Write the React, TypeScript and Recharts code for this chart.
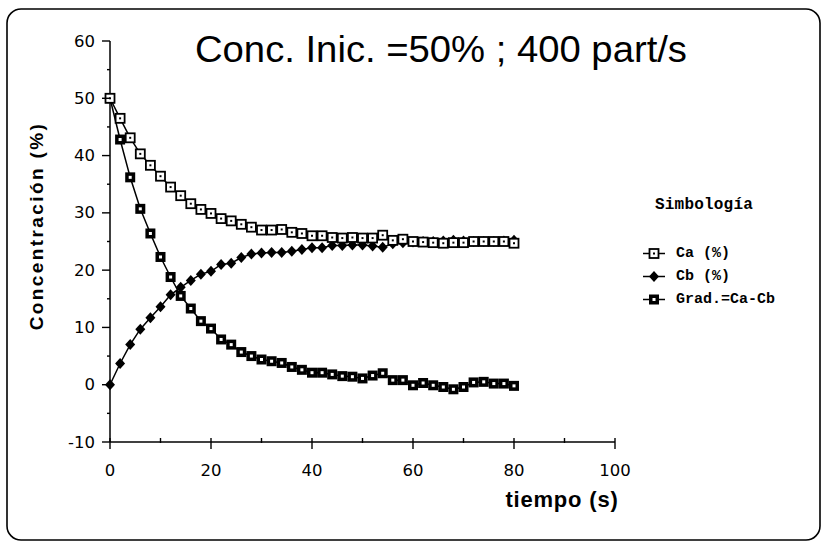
import React from 'react'
import { LineChart, Line, XAxis, YAxis, Legend } from 'recharts'

// muestreo cada 2 s
const tiempo = [
  0, 2, 4, 6, 8, 10, 12, 14, 16, 18, 20, 22, 24, 26, 28, 30, 32, 34, 36, 38, 40,
  42, 44, 46, 48, 50, 52, 54, 56, 58, 60, 62, 64, 66, 68, 70, 72, 74, 76, 78, 80,
]
const ca = [
  50, 46.5, 43.1, 40.3, 38.3, 36.4, 34.5, 33.0, 31.6, 30.6, 29.9, 29.0, 28.6, 28.0, 27.5, 27.0, 27.0, 27.1, 26.6, 26.4, 26.0,
  26.0, 25.7, 25.6, 25.7, 25.6, 25.6, 26.1, 25.2, 25.4, 25.0, 24.9, 24.8, 24.7, 24.8, 24.8, 25.0, 25.0, 25.0, 25.0, 24.7,
]
const cb = [
  0, 3.7, 7.0, 9.7, 11.7, 13.6, 15.7, 17.0, 18.2, 19.3, 19.8, 21.0, 21.2, 22.2, 22.8, 23.0, 23.1, 23.1, 23.3, 23.6, 23.9,
  23.9, 24.3, 24.3, 24.4, 24.4, 24.2, 24.0, 24.6, 24.8, 24.9, 25.0, 25.0, 25.1, 25.2, 25.1, 25.0, 25.0, 25.0, 25.1, 25.2,
]
const grad = [
  50, 42.8, 36.2, 30.7, 26.4, 22.3, 18.8, 15.5, 13.3, 11.1, 9.8, 7.9, 7.0, 5.7, 5.0, 4.4, 4.1, 3.8, 3.1, 2.6, 2.1,
  2.1, 1.8, 1.5, 1.4, 1.1, 1.6, 2.0, 0.8, 0.8, -0.1, 0.3, -0.1, -0.4, -0.8, -0.4, 0.4, 0.5, 0.2, 0.2, -0.2,
]
const xTicks = [0, 10, 20, 30, 40, 50, 60, 70, 80, 90, 100]
const yTicks = [-10, -5, 0, 5, 10, 15, 20, 25, 30, 35, 40, 45, 50, 55, 60]

const data = tiempo.map((t, i) => ({ t, ca: ca[i], cb: cb[i], grad: grad[i] }))

const tickFont = '"DejaVu Sans", sans-serif'

function OpenSquare({ cx, cy }: { cx: number; cy: number }) {
  return (
    <g>
      <rect x={cx - 4.5} y={cy - 4.5} width={9} height={9} fill="#fff" stroke="#000" strokeWidth={1.8} />
      <rect x={cx - 1} y={cy - 1} width={2} height={2} fill="#000" />
    </g>
  )
}

function Diamond({ cx, cy }: { cx: number; cy: number }) {
  return <path d={`M${cx},${cy - 5.5}L${cx + 5},${cy}L${cx},${cy + 5.5}L${cx - 5},${cy}Z`} fill="#000" />
}

function BoldSquare({ cx, cy }: { cx: number; cy: number }) {
  return (
    <g>
      <rect x={cx - 5} y={cy - 5} width={10} height={10} fill="#000" />
      <rect x={cx - 1.5} y={cy - 1.5} width={3} height={3} fill="#fff" />
    </g>
  )
}

const dotFn = (Shape: React.FC<{ cx: number; cy: number }>, name: string) => (props: any) => {
  const { cx, cy, index } = props
  if (cx == null || cy == null) return <g key={`${name}-${index}`} />
  return (
    <g key={`${name}-${index}`}>
      <Shape cx={cx} cy={cy} />
    </g>
  )
}

function XTick({ x, y, payload }: any) {
  const major = payload.value % 20 === 0
  return (
    <g>
      <line x1={x} x2={x} y1={y - 4} y2={y + (major ? 7 : 1)} stroke="#000" strokeWidth={1.4} />
      {major && (
        <text x={x} y={y + 28} textAnchor="middle" dominantBaseline="central"
          fontFamily={tickFont} fontSize={16.5} fill="#000">
          {payload.value}
        </text>
      )}
    </g>
  )
}

function YTick({ x, y, payload }: any) {
  const major = payload.value % 10 === 0
  return (
    <g>
      <line x1={x - (major ? 8 : 3)} x2={x} y1={y} y2={y} stroke="#000" strokeWidth={1.4} />
      {major && (
        <text x={x - 15} y={y} textAnchor="end" dominantBaseline="central"
          fontFamily={tickFont} fontSize={16.5} fill="#000">
          {payload.value}
        </text>
      )}
    </g>
  )
}

const legendItems = [
  { label: 'Ca (%)', Shape: OpenSquare },
  { label: 'Cb (%)', Shape: Diamond },
  { label: 'Grad.=Ca-Cb', Shape: BoldSquare },
]

function Simbologia() {
  const mono = '"Liberation Mono", "DejaVu Sans Mono", monospace'
  return (
    <div style={{ fontFamily: mono, color: '#000', fontWeight: 'bold' }}>
      <div style={{ paddingLeft: 25, lineHeight: '24px', fontSize: 16, letterSpacing: 0.2 }}>Simbología</div>
      <div style={{ height: 25 }} />
      {legendItems.map(({ label, Shape }) => (
        <div key={label} style={{ display: 'flex', alignItems: 'center', height: 23, paddingLeft: 13 }}>
          <svg width={22} height={23}>
            <line x1={0} x2={22} y1={11.5} y2={11.5} stroke="#000" strokeWidth={1.5} />
            <Shape cx={11} cy={11.5} />
          </svg>
          <span style={{ marginLeft: 11, fontSize: 15, letterSpacing: 0 }}>{label}</span>
        </div>
      ))}
    </div>
  )
}

export default function App() {
  return (
    <div style={{ position: 'absolute', left: 0, top: 0, width: 825, height: 543, background: '#fff' }}>
      <LineChart width={825} height={543} data={data}
        margin={{ top: 41, right: 210, bottom: 71, left: 60 }}>
        <XAxis dataKey="t" type="number" domain={[0, 100]} ticks={xTicks} interval={0}
          height={30} tickSize={0} tickMargin={0} tickLine={false} tick={<XTick />}
          axisLine={{ stroke: '#000', strokeWidth: 1.5 }} />
        <YAxis type="number" domain={[-10, 60]} ticks={yTicks} interval={0}
          width={50} tickSize={0} tickMargin={0} tickLine={false} tick={<YTick />}
          axisLine={{ stroke: '#000', strokeWidth: 1.5 }} />
        <Legend layout="horizontal" verticalAlign="middle" align="center"
          wrapperStyle={{ left: 630, top: 193, width: 190, height: 120 }}
          content={() => <Simbologia />} />
        <Line type="linear" dataKey="cb" stroke="#000" strokeWidth={1.5}
          dot={dotFn(Diamond, 'cb')} activeDot={false} isAnimationActive={false} />
        <Line type="linear" dataKey="grad" stroke="#000" strokeWidth={1.5}
          dot={dotFn(BoldSquare, 'grad')} activeDot={false} isAnimationActive={false} />
        <Line type="linear" dataKey="ca" stroke="#000" strokeWidth={1.5}
          dot={dotFn(OpenSquare, 'ca')} activeDot={false} isAnimationActive={false} />
      </LineChart>
      <svg width={825} height={543} style={{ position: 'absolute', left: 0, top: 0, pointerEvents: 'none' }}>
        <rect x={7} y={9} width={813} height={531} rx={14} fill="none" stroke="#000" strokeWidth={1.6} />
        <text x={441} y={62} textAnchor="middle" fontFamily='"Liberation Sans", sans-serif'
          fontSize={36} textLength={492} lengthAdjust="spacingAndGlyphs" fill="#000">
          Conc. Inic. =50% ; 400 part/s
        </text>
        <text transform="translate(43 226) rotate(-90)" textAnchor="middle"
          fontFamily='"Liberation Sans", sans-serif' fontWeight="bold" fontSize={19}
          letterSpacing={2.4} fill="#000">
          Concentración (%)
        </text>
        <text x={562} y={507} textAnchor="middle" fontFamily='"Liberation Sans", sans-serif'
          fontWeight="bold" fontSize={22} letterSpacing={0.8} fill="#000">
          tiempo (s)
        </text>
      </svg>
    </div>
  )
}
